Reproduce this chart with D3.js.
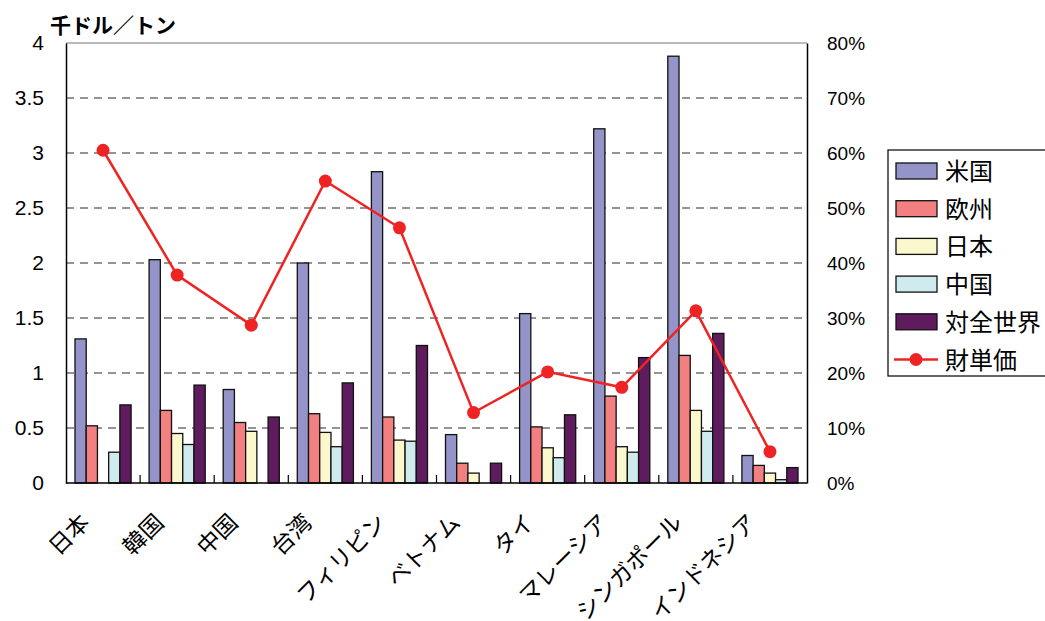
<!DOCTYPE html>
<html>
<head>
<meta charset="utf-8">
<script src="https://cdn.jsdelivr.net/npm/d3@7"></script>
<style>
  body { margin: 0; background: #fff; }
  svg { display: block; }
  text { font-family: "Noto Sans CJK JP", "Liberation Sans", sans-serif; fill: #000; }
</style>
</head>
<body>
<div id="chart-area"></div>
<script>
// categories (countries)
var categories = ["日本", "韓国", "中国", "台湾", "フィリピン", "ベトナム", "タイ", "マレーシア", "シンガポール", "インドネシア"];

// bar series, thousand dollars per ton
var seriesNames = ["米国", "欧州", "日本", "中国", "対全世界"];
var usa    = [1.31, 2.03, 0.85, 2.00, 2.83, 0.44, 1.54, 3.22, 3.88, 0.25];
var europe = [0.52, 0.66, 0.55, 0.63, 0.60, 0.18, 0.51, 0.79, 1.16, 0.16];
var japan  = [0.00, 0.45, 0.47, 0.46, 0.39, 0.09, 0.32, 0.33, 0.66, 0.09];
var china  = [0.28, 0.35, 0.00, 0.33, 0.38, 0.00, 0.23, 0.28, 0.47, 0.03];
var world  = [0.71, 0.89, 0.60, 0.91, 1.25, 0.18, 0.62, 1.14, 1.36, 0.14];

// line series (right axis, %)
var lineName = "財単価";
var unitPrice = [60.5, 37.8, 28.7, 54.9, 46.4, 12.8, 20.2, 17.4, 31.3, 5.7];

var leftTicks = [0, 0.5, 1, 1.5, 2, 2.5, 3, 3.5, 4];
var rightTicks = [0, 10, 20, 30, 40, 50, 60, 70, 80];

var colors = ["#9494C8", "#F28080", "#FAF8CC", "#CFEBEE", "#5E1C5E"];
var lineColor = "#EE2424";

var seriesValues = [usa, europe, japan, china, world];

//============================LAYOUT============================
var W = 1045, H = 621;
var margins = { left: 66, right: 238, top: 43, bottom: 138 };
var width = W - margins.left - margins.right;
var height = H - margins.top - margins.bottom;

var svg = d3.select("#chart-area")
    .append("svg")
    .attr("width", W)
    .attr("height", H);

var g = svg.append("g")
    .attr("transform", "translate(" + margins.left + "," + margins.top + ")");

// scales
var x = d3.scaleBand()
    .domain(categories)
    .range([0, width])
    .paddingInner(0)
    .paddingOuter(0);

var xInner = d3.scaleBand()
    .domain(seriesNames)
    .range([9, x.bandwidth() - 9]);

var y = d3.scaleLinear().domain([0, 4]).range([height, 0]);
var y2 = d3.scaleLinear().domain([0, 80]).range([height, 0]);

// gridlines
g.append("g")
  .selectAll("line")
  .data(leftTicks.filter(function(d) { return d > 0; }))
  .enter()
  .append("line")
    .attr("x1", 0)
    .attr("x2", width)
    .attr("y1", function(d) { return y(d); })
    .attr("y2", function(d) { return y(d); })
    .attr("stroke", function(d) { return d === 4 ? "#777" : "#2a2a2a"; })
    .attr("stroke-width", 1.2)
    .attr("stroke-dasharray", function(d) { return d === 4 ? null : "8,6"; });

// bars
var groups = g.append("g")
  .selectAll("g")
  .data(categories)
  .enter()
  .append("g")
    .attr("transform", function(d) { return "translate(" + x(d) + ",0)"; });

groups.selectAll("rect")
  .data(function(d, i) {
    return seriesNames.map(function(s, j) { return { s: s, v: seriesValues[j][i], j: j }; });
  })
  .enter()
  .filter(function(d) { return d.v > 0; })
  .append("rect")
    .attr("x", function(d) { return xInner(d.s); })
    .attr("width", xInner.bandwidth())
    .attr("y", function(d) { return y(d.v); })
    .attr("height", function(d) { return y(0) - y(d.v); })
    .attr("fill", function(d) { return colors[d.j]; })
    .attr("stroke", "#111")
    .attr("stroke-width", 1.3);

// axes
var yAxisCall = d3.axisLeft(y).tickValues(leftTicks).tickSize(0).tickPadding(22)
    .tickFormat(function(d) { return d; });
var yAxisGroup = g.append("g").call(yAxisCall);
yAxisGroup.select(".domain").attr("stroke", "#000").attr("stroke-width", 1.5);
yAxisGroup.selectAll("text").style("font-size", "21px")
    .style("font-family", "'Liberation Sans', Arial, sans-serif");

var y2AxisCall = d3.axisRight(y2).tickValues(rightTicks).tickSize(0).tickPadding(20)
    .tickFormat(function(d) { return d + "%"; });
var y2AxisGroup = g.append("g")
    .attr("transform", "translate(" + width + ",0)")
    .call(y2AxisCall);
y2AxisGroup.select(".domain").attr("stroke", "#000").attr("stroke-width", 1.5);
y2AxisGroup.selectAll("text").style("font-size", "19px")
    .style("font-family", "'Liberation Sans', Arial, sans-serif");

// x axis line and inner ticks at band boundaries
var xAxisGroup = g.append("g").attr("transform", "translate(0," + height + ")");
xAxisGroup.append("line")
    .attr("x1", 0).attr("x2", width)
    .attr("stroke", "#000").attr("stroke-width", 1.5);
xAxisGroup.selectAll("line.tk")
  .data(categories.slice(1))
  .enter()
  .append("line")
    .attr("class", "tk")
    .attr("x1", function(d) { return x(d); })
    .attr("x2", function(d) { return x(d); })
    .attr("y1", 0).attr("y2", -8)
    .attr("stroke", "#000").attr("stroke-width", 1.2);

// rotated category labels (the longest ones run off the bottom edge, as in the original)
xAxisGroup.selectAll("text")
  .data(categories)
  .enter()
  .append("text")
    .attr("text-anchor", "end")
    .attr("transform", function(d) {
      return "translate(" + (x(d) + x.bandwidth() / 2 - 12) + "," + 41 + ") rotate(-45)";
    })
    .style("font-size", "23px")
    .text(function(d) { return d; });

// line
var cx = function(d, i) { return x(categories[i]) + x.bandwidth() / 2; };
g.append("path")
  .datum(unitPrice)
  .attr("fill", "none")
  .attr("stroke", lineColor)
  .attr("stroke-width", 2.5)
  .attr("d", d3.line()
    .x(cx)
    .y(function(d) { return y2(d); }));

g.append("g")
  .selectAll("circle")
  .data(unitPrice)
  .enter()
  .append("circle")
    .attr("cx", cx)
    .attr("cy", function(d) { return y2(d); })
    .attr("r", 6.5)
    .attr("fill", lineColor);

// unit title
svg.append("text")
  .attr("x", 50)
  .attr("y", 33)
  .style("font-size", "21px")
  .style("font-weight", "bold")
  .text("千ドル／トン");

// legend (runs past the right edge, as in the original)
var legend = svg.append("g").attr("transform", "translate(888,150)");
legend.append("rect")
  .attr("x", 0).attr("y", 0)
  .attr("width", 180).attr("height", 226)
  .attr("fill", "#fff")
  .attr("stroke", "#000")
  .attr("stroke-width", 1.2);

var rowH = 37.7;
var items = legend.selectAll("g.item")
  .data(seriesNames)
  .enter()
  .append("g")
    .attr("class", "item")
    .attr("transform", function(d, i) { return "translate(0," + (21 + i * rowH) + ")"; });

items.append("rect")
  .attr("x", 8).attr("y", -8)
  .attr("width", 41).attr("height", 16)
  .attr("fill", function(d, i) { return colors[i]; })
  .attr("stroke", "#111")
  .attr("stroke-width", 1.3);

items.append("text")
  .attr("x", 57)
  .attr("y", 9)
  .style("font-size", "24px")
  .text(function(d) { return d; });

var lineItem = legend.append("g")
  .attr("transform", "translate(0," + (21 + 5 * rowH) + ")");
lineItem.append("line")
  .attr("x1", 6).attr("x2", 50)
  .attr("stroke", lineColor).attr("stroke-width", 2.5);
lineItem.append("circle")
  .attr("cx", 28).attr("r", 6.5).attr("fill", lineColor);
lineItem.append("text")
  .attr("x", 57).attr("y", 9)
  .style("font-size", "24px")
  .text(lineName);
</script>
</body>
</html>
